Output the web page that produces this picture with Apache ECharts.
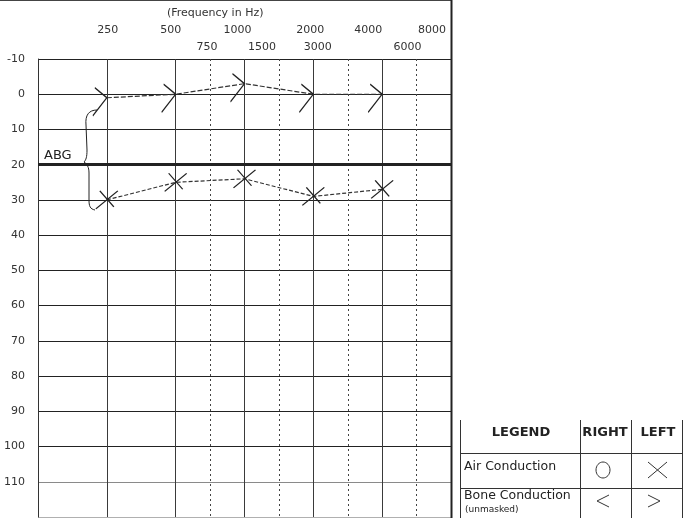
<!DOCTYPE html>
<html><head><meta charset="utf-8">
<script src="https://cdn.jsdelivr.net/npm/echarts@6/dist/echarts.min.js"></script>
<style>html,body{margin:0;padding:0;background:#fff}#c{width:685px;height:518px}</style>
</head><body><div id="c"></div>
<script>
// ---- data ----
const octaveFreqs = ['125', '250', '500', '1000', '2000', '4000', '8000']; // octave positions 0..6
const halfOctaveFreqs = ['750', '1500', '3000', '6000'];                  // positions 2.5..5.5
const testFreqs = ['250', '500', '1000', '2000', '4000'];
const boneLeft = [1, 0, -3, 0, 0];        // bone conduction, left ear (>)
const airLeft = [30, 25, 24, 29, 27];     // air conduction, left ear (X)
const abgLevel = 20;
const abgLabel = 'ABG';
const dbMin = -10, dbMax = 120, dbStep = 10;
const titleText = '(Frequency in Hz)';

// ---- helpers ----
function freqPos(f) {
  const i = octaveFreqs.indexOf(f);
  if (i >= 0) return i;
  return halfOctaveFreqs.indexOf(f) + 2.5;
}
const bonePts = testFreqs.map((f, i) => [freqPos(f), boneLeft[i]]);
const airPts = testFreqs.map((f, i) => [freqPos(f), airLeft[i]]);

// label nudges (style only)
const majorShift = {'250': 1, '500': -5, '1000': -7, '2000': -3, '4000': -14, '8000': -19};
const minorShift = {'750': -3, '1500': -17, '3000': -30, '6000': -9};
function richFor(shifts) {
  const r = {};
  Object.keys(shifts).forEach(k => {
    const s = shifts[k];
    r['s' + k] = {
      fontFamily: 'DejaVu Sans', fontSize: 11, color: '#333', lineHeight: 13,
      padding: s < 0 ? [0, -2 * s, 0, 0] : [0, 0, 0, 2 * s]
    };
  });
  return r;
}

const font = 'DejaVu Sans';
const nY = (dbMax - dbMin) / dbStep + 1;
const yLineColors = [];
for (let i = 0; i < nY; i++) {
  const v = dbMin + i * dbStep;
  yLineColors.push(v === 110 ? '#8a8a8a' : (v === 120 ? '#b0b0b0' : '#222'));
}
const xMinorColors = [];
for (let v = 0; v <= 6.0001; v += 0.5) {
  xMinorColors.push((v % 1 === 0.5 && v >= 2.5) ? '#444' : 'rgba(0,0,0,0)');
}

const boneSymbol = 'path://M0,0L12,10L-2,28';
const xSymbol = 'path://M0,18L22,0M4,0L18,16';
const ln = {stroke: '#222', lineWidth: 1, fill: 'none'};

const chart = echarts.init(document.getElementById('c'), null, {renderer: 'canvas'});
chart.setOption({
  animation: false,
  backgroundColor: '#fff',
  title: {
    text: titleText, left: 162, top: 3,
    textStyle: {fontFamily: font, fontSize: 11, fontWeight: 'normal', color: '#333'}
  },
  grid: {left: 38, right: 234, top: 59, bottom: 1, containLabel: false},
  xAxis: [
    {
      type: 'value', position: 'top', min: 0, max: 6, interval: 1,
      axisLine: {show: false}, axisTick: {show: false},
      splitLine: {show: true, lineStyle: {color: '#3a3a3a', width: 1}},
      axisLabel: {
        show: true, margin: 22, showMaxLabel: true, showMinLabel: true,
        formatter: v => {
          const f = octaveFreqs[Math.round(v)];
          if (!f || Math.round(v) === 0) return '';
          return '{s' + f + '|' + f + '}';
        },
        rich: richFor(majorShift)
      }
    },
    {
      type: 'value', position: 'top', min: 0, max: 6, interval: 0.5,
      axisLine: {show: false}, axisTick: {show: false},
      splitLine: {show: true, lineStyle: {color: xMinorColors, width: 1, type: [2, 3]}},
      axisLabel: {
        show: true, margin: 5, showMaxLabel: true, showMinLabel: true,
        formatter: v => {
          if (v % 1 !== 0.5 || v < 2.5) return '';
          const f = halfOctaveFreqs[Math.round(v - 2.5)];
          return f ? '{s' + f + '|' + f + '}' : '';
        },
        rich: richFor(minorShift)
      }
    }
  ],
  yAxis: {
    type: 'value', inverse: true, min: dbMin, max: dbMax, interval: dbStep,
    axisLine: {show: true, lineStyle: {color: '#333', width: 1}},
    axisTick: {show: false},
    splitLine: {show: true, lineStyle: {color: yLineColors, width: 1}},
    axisLabel: {
      margin: 13, fontFamily: font, fontSize: 11, color: '#333',
      showMinLabel: true, showMaxLabel: true,
      formatter: v => (v >= dbMax ? '' : String(v))
    }
  },
  series: [
    {
      name: 'Bone Left', type: 'line', xAxisIndex: 0, data: bonePts,
      symbol: boneSymbol, symbolSize: [14, 28], symbolOffset: [-7, 4],
      itemStyle: {color: 'rgba(0,0,0,0)', borderColor: '#222', borderWidth: 1.2},
      lineStyle: {color: '#333', width: 1.2, type: [5, 2]},
      z: 5
    },
    {
      name: 'Air Left', type: 'line', xAxisIndex: 0, data: airPts,
      symbol: xSymbol, symbolSize: [22, 18],
      itemStyle: {color: 'rgba(0,0,0,0)', borderColor: '#222', borderWidth: 1.2},
      lineStyle: {color: '#333', width: 1.2, type: [4, 2]},
      z: 5,
      markLine: {
        silent: true, symbol: ['none', 'none'],
        data: [{yAxis: abgLevel}],
        lineStyle: {color: '#222', width: 3, type: 'solid'},
        label: {
          show: true, position: 'insideStartTop', formatter: abgLabel,
          fontFamily: font, fontSize: 13, color: '#222', distance: [6, 3]
        }
      }
    }
  ],
  graphic: [
    // frame
    {type: 'line', shape: {x1: 0, y1: 0.5, x2: 452, y2: 0.5}, style: {stroke: '#444', lineWidth: 1}, z: 10},
    {type: 'line', shape: {x1: 451.5, y1: 0, x2: 451.5, y2: 518}, style: {stroke: '#222', lineWidth: 2}, z: 10},
    // ABG brace
    {type: 'bezierCurve', shape: {x1: 97, y1: 110, cpx1: 89, cpy1: 110, cpx2: 85, cpy2: 115, x2: 86, y2: 125}, style: ln, z: 10},
    {type: 'line', shape: {x1: 86, y1: 125, x2: 87, y2: 150}, style: ln, z: 10},
    {type: 'bezierCurve', shape: {x1: 87, y1: 150, cpx1: 87, cpy1: 157, cpx2: 86, cpy2: 160, x2: 84, y2: 162}, style: ln, z: 10},
    {type: 'bezierCurve', shape: {x1: 84, y1: 162, cpx1: 87, cpy1: 164, cpx2: 89, cpy2: 167, x2: 89, y2: 173}, style: ln, z: 10},
    {type: 'line', shape: {x1: 89, y1: 173, x2: 89, y2: 200}, style: ln, z: 10},
    {type: 'bezierCurve', shape: {x1: 89, y1: 200, cpx1: 89, cpy1: 206, cpx2: 90, cpy2: 209, x2: 95, y2: 210}, style: ln, z: 10},
    // legend table
    {type: 'line', shape: {x1: 460.5, y1: 420, x2: 460.5, y2: 518}, style: {stroke: '#333', lineWidth: 1}},
    {type: 'line', shape: {x1: 580.5, y1: 420, x2: 580.5, y2: 518}, style: {stroke: '#333', lineWidth: 1}},
    {type: 'line', shape: {x1: 631.5, y1: 420, x2: 631.5, y2: 518}, style: {stroke: '#333', lineWidth: 1}},
    {type: 'line', shape: {x1: 682.5, y1: 420, x2: 682.5, y2: 518}, style: {stroke: '#333', lineWidth: 1}},
    {type: 'line', shape: {x1: 460, y1: 453.5, x2: 683, y2: 453.5}, style: {stroke: '#333', lineWidth: 1}},
    {type: 'line', shape: {x1: 460, y1: 488.5, x2: 683, y2: 488.5}, style: {stroke: '#333', lineWidth: 1}},
    {type: 'text', x: 521, y: 433, style: {text: 'LEGEND', fontFamily: font, fontWeight: 'bold', fontSize: 13, fill: '#222', align: 'center', verticalAlign: 'middle'}},
    {type: 'text', x: 605, y: 433, style: {text: 'RIGHT', fontFamily: font, fontWeight: 'bold', fontSize: 13, fill: '#222', align: 'center', verticalAlign: 'middle'}},
    {type: 'text', x: 658, y: 433, style: {text: 'LEFT', fontFamily: font, fontWeight: 'bold', fontSize: 13, fill: '#222', align: 'center', verticalAlign: 'middle'}},
    {type: 'text', x: 464, y: 467, style: {text: 'Air Conduction', fontFamily: font, fontSize: 12.5, fill: '#222', align: 'left', verticalAlign: 'middle'}},
    {type: 'text', x: 464, y: 496, style: {text: 'Bone Conduction', fontFamily: font, fontSize: 12.5, fill: '#222', align: 'left', verticalAlign: 'middle'}},
    {type: 'text', x: 465, y: 510, style: {text: '(unmasked)', fontFamily: font, fontSize: 9, fill: '#222', align: 'left', verticalAlign: 'middle'}},
    {type: 'ellipse', shape: {cx: 603, cy: 470, rx: 7, ry: 8}, style: {stroke: '#333', fill: 'none', lineWidth: 1}},
    {type: 'polyline', shape: {points: [[648, 462], [667, 478]]}, style: {stroke: '#333', lineWidth: 1, fill: 'none'}},
    {type: 'polyline', shape: {points: [[667, 462], [648, 478]]}, style: {stroke: '#333', lineWidth: 1, fill: 'none'}},
    {type: 'polyline', shape: {points: [[609, 495], [597, 501], [609, 507]]}, style: {stroke: '#333', lineWidth: 1, fill: 'none'}},
    {type: 'polyline', shape: {points: [[648, 495], [660, 501], [648, 507]]}, style: {stroke: '#333', lineWidth: 1, fill: 'none'}}
  ]
});
</script>
</body></html>
